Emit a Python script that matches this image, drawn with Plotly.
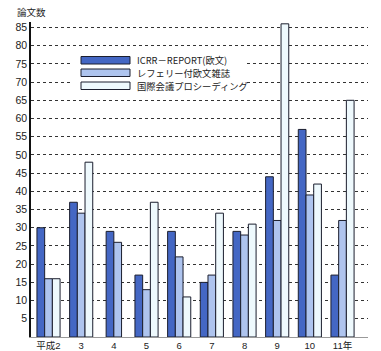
import plotly.graph_objects as go

categories = ["平成2", "3", "4", "5", "6", "7", "8", "9", "10", "11年"]
series_names = ["ICRR－REPORT(欧文)", "レフェリー付欧文雑誌", "国際会議プロシーディング"]
icrr_report = [30, 37, 29, 17, 29, 15, 29, 44, 57, 17]
refereed = [16, 34, 26, 13, 22, 17, 28, 32, 39, 32]
proceedings = [16, 48, None, 37, 11, 34, 31, 86, 42, 65]
y_ticks = [5, 10, 15, 20, 25, 30, 35, 40, 45, 50, 55, 60, 65, 70, 75, 80, 85]
y_title = "論文数"

series = [icrr_report, refereed, proceedings]
fills = ["#4467c4", "#aec4ee", "#eef9fd"]
edge = "#1b1e2e"

W, H = 381, 351
L, R, T, B = 31, 368, 22, 337


def px(x):
    return (x - L) / (R - L)


def py(y):
    return (B - y) / (B - T)


bw = 0.236
fig = go.Figure()
for si, (name, vals) in enumerate(zip(series_names, series)):
    offs = []
    for ci in range(len(categories)):
        present = [k for k in range(len(series)) if series[k][ci] is not None]
        n = len(present)
        if vals[ci] is None:
            offs.append(0)
        else:
            k = present.index(si)
            offs.append(-n * bw / 2 + k * bw)
    fig.add_trace(go.Bar(
        x=categories, y=vals, name=name,
        offset=offs, width=[bw] * len(categories),
        marker=dict(color=fills[si], line=dict(color=edge, width=1)),
        showlegend=False,
    ))

shapes = []
annotations = []
# legend background
shapes.append(dict(type="rect", xref="paper", yref="paper",
                   x0=px(73), x1=px(247), y0=py(50), y1=py(95),
                   fillcolor="white", line=dict(width=0), layer="above"))
rows = [(56.5, 64), (69, 76.5), (82, 89.5)]
for si, (y0, y1) in enumerate(rows):
    shapes.append(dict(type="rect", xref="paper", yref="paper",
                       x0=px(81), x1=px(130), y0=py(y0), y1=py(y1),
                       fillcolor=fills[si], line=dict(color=edge, width=1),
                       layer="above"))
    annotations.append(dict(text=series_names[si], xref="paper", yref="paper",
                            x=px(135), y=py((y0 + y1) / 2), xanchor="left",
                            yanchor="middle", showarrow=False,
                            font=dict(size=9.3, color="#222",
                                      family="Noto Sans CJK JP")))
annotations.append(dict(text=y_title, xref="paper", yref="paper",
                        x=px(15), y=py(12), xanchor="left", yanchor="middle",
                        showarrow=False,
                        font=dict(size=9.5, color="#222",
                                  family="Noto Sans CJK JP")))

fig.update_layout(
    width=W, height=H,
    margin=dict(l=L, r=W - R, t=T, b=H - B),
    paper_bgcolor="white", plot_bgcolor="white",
    barmode="overlay",
    shapes=shapes, annotations=annotations,
    font=dict(family="Liberation Sans, Noto Sans CJK JP", color="#222"),
    xaxis=dict(type="category", range=[-0.536, 9.78], showgrid=False,
               showline=True, linecolor="#999", linewidth=1, ticks="",
               tickfont=dict(size=9.5, family="Liberation Sans, Noto Sans CJK JP"),
               automargin=False, fixedrange=True, zeroline=False),
    yaxis=dict(range=[0, 86.5], tickvals=y_ticks, showgrid=True,
               gridcolor="#333", griddash="dot", gridwidth=1,
               showline=True, linecolor="#111", linewidth=1.5, ticks="",
               tickfont=dict(size=10.5, family="Liberation Sans"),
               automargin=False, zeroline=False),
)

fig.write_html("out.html")
